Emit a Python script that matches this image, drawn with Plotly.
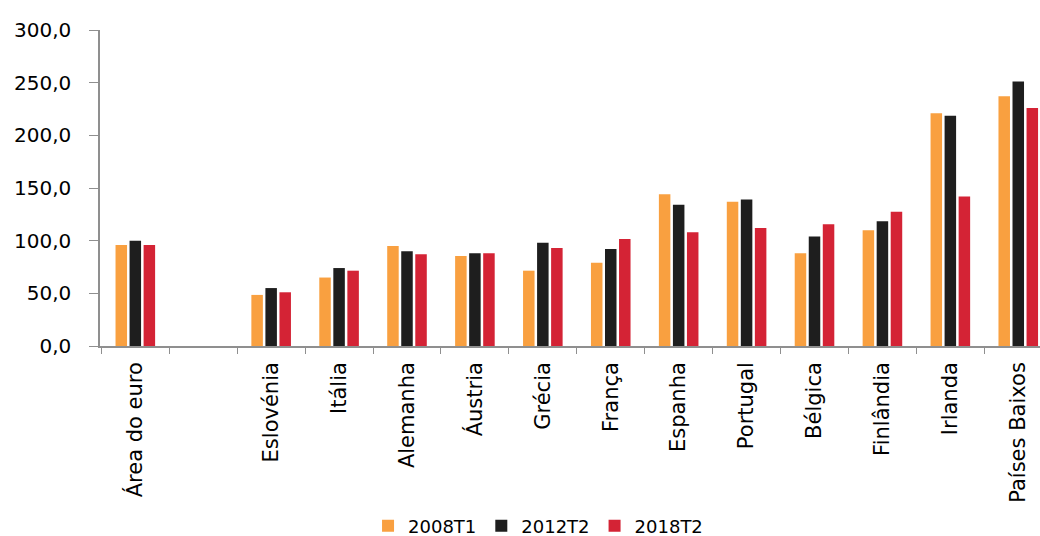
import plotly.graph_objects as go

categories = ["Área do euro", " ", "Eslovénia", "Itália", "Alemanha", "Áustria", "Grécia",
              "França", "Espanha", "Portugal", "Bélgica", "Finlândia", "Irlanda", "Países Baixos"]
s2008T1 = [96, None, 48.5, 65, 95, 85.5, 71.5, 79, 144, 137, 88, 110, 221, 237]
s2012T2 = [100, None, 55, 74, 90, 88, 98, 92, 134, 139, 104, 118.5, 218.5, 251]
s2018T2 = [96, None, 51, 71.5, 87, 88, 93, 101.5, 108, 112, 115.5, 127.5, 142, 226]
series_names = ["2008T1", "2012T2", "2018T2"]
colors = ["#F9A040", "#1E1E1E", "#D42335"]
y_ticks = [0, 50, 100, 150, 200, 250, 300]
y_labels = ["0,0", "50,0", "100,0", "150,0", "200,0", "250,0", "300,0"]

fig = go.Figure()
for name, vals, c in zip(series_names, [s2008T1, s2012T2, s2018T2], colors):
    fig.add_trace(go.Bar(x=categories, y=vals, name=name, marker=dict(color=c, line=dict(width=0))))

font = "'DejaVu Sans', sans-serif"
fig.update_layout(
    width=1040, height=536,
    margin=dict(l=100, r=0, t=30, b=190, autoexpand=False),
    paper_bgcolor="white", plot_bgcolor="white",
    barmode="group", bargap=0.38, bargroupgap=0.18,
    font=dict(family=font, color="#000000"),
    showlegend=True,
    legend=dict(orientation="h", x=0.466, xanchor="center", y=-0.57, yanchor="middle",
                font=dict(size=18, family=font), itemwidth=30, traceorder="normal"),
    xaxis=dict(type="category", categoryorder="array", categoryarray=categories,
               range=[-0.52, 13.32],
               tickangle=-90, tickfont=dict(size=21, family=font), automargin=False,
               showline=True, linecolor="#8f8f8f", linewidth=1.5,
               ticks="outside", tickson="boundaries", ticklen=6, tickcolor="#8f8f8f",
               ticklabelstandoff=6, showgrid=False),
    yaxis=dict(range=[0, 300], tickvals=y_ticks, ticktext=y_labels, automargin=False,
               tickfont=dict(size=20, family=font),
               showline=True, linecolor="#8f8f8f", linewidth=1.5,
               ticks="outside", ticklen=9, tickcolor="#8f8f8f",
               ticklabelstandoff=14, showgrid=False, zeroline=False),
)
fig.write_html(
    "out.html",
    config={"displayModeBar": False},
    post_script="document.body.style.margin='0';document.body.style.overflow='hidden';",
)
